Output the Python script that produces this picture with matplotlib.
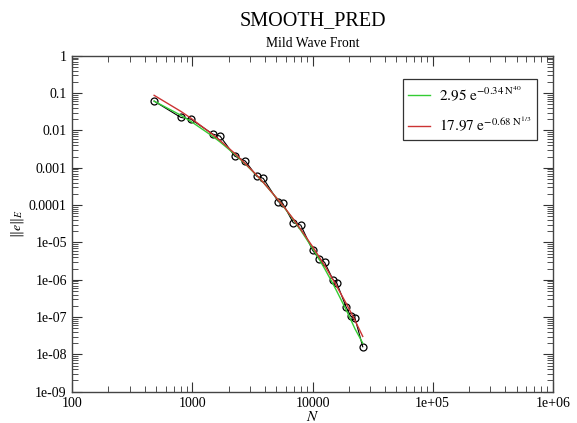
import numpy as np
import matplotlib
import matplotlib.pyplot as plt
import matplotlib.ticker

matplotlib.use('agg')

# data
dofs = [480, 800, 970, 1480, 1700, 2250, 2760, 3420, 3890, 5190, 5650,
        6920, 7980, 10000, 11400, 12600, 14800, 15900, 19000, 20800, 22600, 26200]
err = [0.0612, 0.0224, 0.0201, 0.00798, 0.00706, 0.00206, 0.00151, 5.99e-4, 5.2e-4,
       1.23e-4, 1.11e-4, 3.36e-5, 2.92e-5, 6.24e-6, 3.54e-6, 2.94e-6, 1.01e-6, 8.3e-7,
       1.89e-7, 1.06e-7, 9.2e-8, 1.6e-8]
fit_green = [0.0612, 0.0256, 0.0176, 0.00692, 0.00492, 0.00231, 0.00126, 6.3e-4, 4.06e-4,
             1.37e-4, 9.75e-5, 4.10e-5, 2.12e-5, 6.97e-6, 3.49e-6, 2.00e-6, 7.8e-7, 4.99e-7,
             1.59e-7, 8.61e-8, 4.81e-8, 2.0e-8]
fit_red = [0.0875, 0.0326, 0.0214, 7.73e-3, 5.38e-3, 2.43e-3, 1.29e-3, 6.42e-4, 4.08e-4,
           1.37e-4, 9.9e-5, 4.26e-5, 2.24e-5, 7.78e-6, 4.04e-6, 2.43e-6, 1.01e-6, 6.7e-7,
           2.38e-7, 1.36e-7, 8.07e-8, 3.03e-8]
green_label = r'$\mathrm{2.95\ e}^{\mathrm{-0.34\ N}^{\mathrm{40}}}$'
red_label = r'$\mathrm{17.97\ e}^{\mathrm{-0.68\ N}^{\mathrm{1/3}}}$'

plt.rcParams['font.family'] = 'Liberation Serif'
plt.rcParams['mathtext.fontset'] = 'stix'

fig = plt.figure(figsize=(5.77, 4.23), dpi=100)
ax = fig.add_axes([0.1253, 0.074, 0.8326, 0.794])

ax.plot(dofs, err, color='black', lw=0.8, marker='o', markersize=5,
        markerfacecolor='none', markeredgewidth=0.9)
ax.plot(dofs, fit_green, color='#33cc33', lw=1.0, label=green_label)
ax.plot(dofs, fit_red, color='#cc3333', lw=1.0, label=red_label)

ax.set_xscale('log')
ax.set_yscale('log')
ax.set_xlim(100, 1e6)
ax.set_ylim(1e-9, 1)

xticks = [100, 1000, 10000, 1e5, 1e6]
xlabels = ['100', '1000', '10000', '1e+05', '1e+06']
yticks = [10.0 ** k for k in range(-9, 1)]
ylabels = ['1e-09', '1e-08', '1e-07', '1e-06', '1e-05', '0.0001', '0.001', '0.01', '0.1', '1']
ax.set_xticks(xticks)
ax.set_xticklabels(xlabels)
ax.set_yticks(yticks)
ax.set_yticklabels(ylabels)
ax.xaxis.set_minor_locator(matplotlib.ticker.LogLocator(base=10, subs=np.arange(2, 10), numticks=20))
ax.yaxis.set_minor_locator(matplotlib.ticker.LogLocator(base=10, subs=np.arange(2, 10), numticks=20))
ax.xaxis.set_minor_formatter(matplotlib.ticker.NullFormatter())
ax.yaxis.set_minor_formatter(matplotlib.ticker.NullFormatter())
ax.tick_params(which='both', direction='in', top=True, right=True, labelsize=10, color='#333333')
ax.tick_params(which='major', length=7, pad=4)
ax.tick_params(which='minor', length=4)
for s in ax.spines.values():
    s.set_color('#444444')
    s.set_linewidth(1.0)

ax.set_xlabel(r'$N$', fontsize=11, labelpad=0)
ax.set_ylabel(r'$\|e\|_E$', fontsize=10, labelpad=2)

fig.text(0.5416, 0.941, 'SMOOTH_PRED', ha='center', va='baseline', fontsize=14.5)
fig.text(0.5416, 0.889, 'Mild Wave Front', ha='center', va='baseline', fontsize=9.8)

leg = ax.legend(loc='upper right', bbox_to_anchor=(0.967, 0.931), borderaxespad=0,
                fontsize=11, frameon=True, fancybox=False, handlelength=1.4,
                handletextpad=0.6, borderpad=0.35, labelspacing=0.75)
leg.get_frame().set_edgecolor('black')
leg.get_frame().set_linewidth(0.9)

fig.savefig('out.png', dpi=100)
